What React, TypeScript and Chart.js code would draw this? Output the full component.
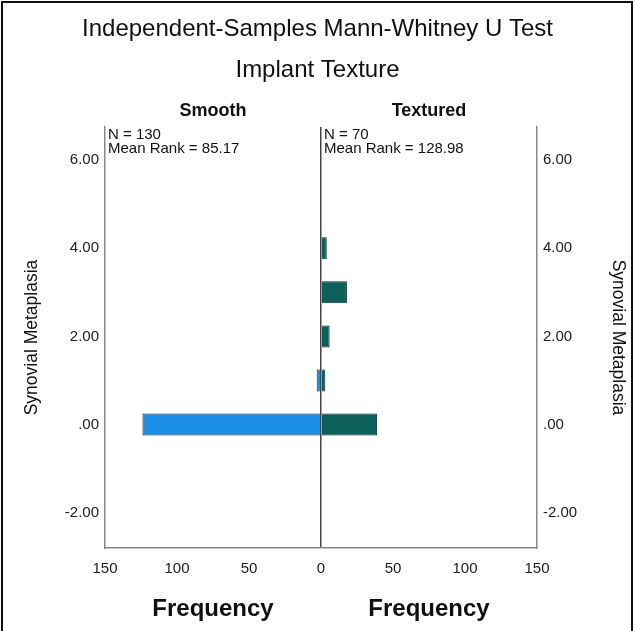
import React, { useEffect, useRef } from "react";
import { Chart, registerables } from "chart.js";

Chart.register(...registerables);

// Data
const categoryValues = [0, 1, 2, 3, 4];
const smoothCounts = [124, 3, 0, 0, 0];
const texturedCounts = [39, 3, 6, 18, 4];
const yTickValues = [-2, 0, 2, 4, 6];
const groupLabels = ["Smooth", "Textured"];
const groupN = [130, 70];
const groupMeanRank = ["85.17", "128.98"];
const titleText = "Independent-Samples Mann-Whitney U Test";
const subtitleText = "Implant Texture";
const yTitle = "Synovial Metaplasia";
const xTitle = "Frequency";

const FONT = "'Liberation Sans', Arial, sans-serif";

const textPlugin = {
  id: "textPlugin",
  afterDraw(chart: any) {
    const ctx = chart.ctx;
    const x = chart.scales.x;
    const area = chart.chartArea;
    ctx.save();
    ctx.fillStyle = "#111";
    ctx.textAlign = "center";
    ctx.textBaseline = "middle";
    ctx.font = `24px ${FONT}`;
    ctx.fillText(titleText, chart.width / 2, 29);
    ctx.fillText(subtitleText, chart.width / 2, 70);

    const leftC = (x.getPixelForValue(-150) + x.getPixelForValue(0)) / 2;
    const rightC = (x.getPixelForValue(0) + x.getPixelForValue(150)) / 2;
    ctx.font = `bold 18px ${FONT}`;
    ctx.fillText(groupLabels[0], leftC, 111);
    ctx.fillText(groupLabels[1], rightC, 111);

    ctx.font = `bold 24px ${FONT}`;
    ctx.fillText(xTitle, leftC, 609);
    ctx.fillText(xTitle, rightC, 609);

    ctx.textAlign = "left";
    ctx.font = `15px ${FONT}`;
    const starts = [area.left + 3, x.getPixelForValue(0) + 3];
    for (let i = 0; i < 2; i++) {
      ctx.fillText(`N = ${groupN[i]}`, starts[i], 135);
      ctx.fillText(`Mean Rank = ${groupMeanRank[i]}`, starts[i], 149);
    }

    // outer frame
    ctx.strokeStyle = "#111";
    ctx.lineWidth = 2;
    ctx.beginPath();
    ctx.moveTo(2, chart.height);
    ctx.lineTo(2, 2);
    ctx.lineTo(chart.width - 3, 2);
    ctx.lineTo(chart.width - 3, chart.height);
    ctx.stroke();
    ctx.restore();
  },
};

export default function App() {
  const ref = useRef<HTMLCanvasElement>(null);
  useEffect(() => {
    if (!ref.current) return;
    const fmt = (v: number) => (v === 0 ? ".00" : v.toFixed(2));
    const setTicks = (s: any) => {
      s.ticks = yTickValues.map((v) => ({ value: v }));
    };
    const yCommon = (titlePad: number, width: number) => ({
      type: "linear",
      min: -2.8,
      max: 6.75,
      offset: false,
      afterBuildTicks: setTicks,
      ticks: {
        padding: 6,
        color: "#222",
        font: { size: 15, family: FONT },
        callback: (v: any) => fmt(Number(v)),
      },
      grid: { display: false, drawTicks: false },
      border: { display: true, color: "#888", width: 1.5 },
      title: {
        display: true,
        text: yTitle,
        color: "#111",
        font: { size: 17.5, family: FONT },
        padding: { top: titlePad, bottom: 0 },
      },
      afterFit: (s: any) => {
        s.width = width;
      },
    });
    const chart = new Chart(ref.current, {
      type: "bar",
      data: {
        datasets: [
          {
            label: groupLabels[0],
            data: categoryValues.map((c, i) => ({ x: -smoothCounts[i], y: c })),
            backgroundColor: "#1a8ee6",
            borderColor: "#1b2e3c",
            borderWidth: 1,
            grouped: false,
            categoryPercentage: 1,
            barPercentage: 0.5,
          },
          {
            label: groupLabels[1],
            data: categoryValues.map((c, i) => ({ x: texturedCounts[i], y: c })),
            backgroundColor: "#0d5f59",
            borderColor: "#0f2a28",
            borderWidth: 1,
            grouped: false,
            categoryPercentage: 1,
            barPercentage: 0.5,
          },
        ] as any,
      },
      options: {
        indexAxis: "y",
        animation: false,
        responsive: false,
        maintainAspectRatio: false,
        layout: { padding: { top: 127, left: 0, right: 0, bottom: 0 } },
        plugins: { legend: { display: false }, tooltip: { enabled: false }, title: { display: false } },
        scales: {
          x: {
            type: "linear",
            min: -150,
            max: 150,
            ticks: {
              stepSize: 50,
              padding: 12,
              color: "#222",
              font: { size: 15, family: FONT },
              callback: (v: any) => String(Math.abs(Number(v))),
            },
            grid: {
              drawTicks: false,
              color: (c: any) => (c.tick && c.tick.value === 0 ? "#444" : "rgba(0,0,0,0)"),
              lineWidth: 1.5,
            },
            border: { display: true, color: "#888", width: 1.5 },
            afterFit: (s: any) => {
              s.height = 83;
            },
          },
          y: { ...yCommon(22, 105), position: "left" },
          y2: { ...yCommon(7, 98), position: "right" },
        },
      } as any,
      plugins: [textPlugin],
    });
    return () => chart.destroy();
  }, []);
  return (
    <div style={{ position: "absolute", left: 0, top: 0, width: 635, height: 631, background: "#fff" }}>
      <canvas ref={ref} width={635} height={631} style={{ display: "block" }} />
    </div>
  );
}
